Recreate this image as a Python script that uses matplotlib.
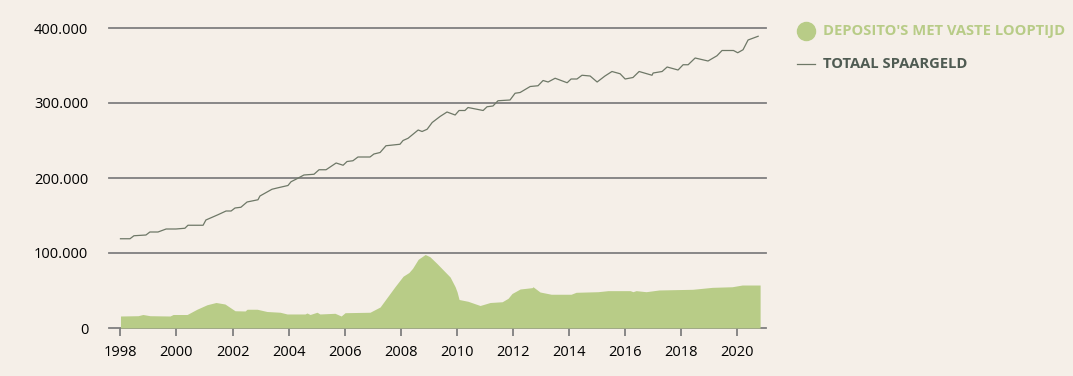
import matplotlib
matplotlib.use("Agg")
import matplotlib.pyplot as plt
from matplotlib.lines import Line2D

# Totaal spaargeld (x 1.000 euro)
tot_year = [1998.0, 1998.34, 1998.48, 1998.91, 1999.05, 1999.34, 1999.63, 1999.98,
            2000.3, 2000.41, 2000.95, 2001.05, 2001.48, 2001.77, 2001.95, 2002.09,
            2002.3, 2002.52, 2002.91, 2002.98, 2003.41, 2003.63, 2003.98, 2004.09,
            2004.3, 2004.55, 2004.91, 2005.09, 2005.34, 2005.7, 2005.95, 2006.09,
            2006.3, 2006.48, 2006.91, 2007.05, 2007.27, 2007.48, 2007.98, 2008.09,
            2008.27, 2008.63, 2008.77, 2008.95, 2009.13, 2009.41, 2009.66, 2009.95,
            2010.09, 2010.3, 2010.41, 2010.95, 2011.09, 2011.3, 2011.48, 2011.91,
            2012.09, 2012.27, 2012.63, 2012.91, 2013.09, 2013.27, 2013.52, 2013.95,
            2014.09, 2014.3, 2014.48, 2014.77, 2015.02, 2015.3, 2015.55, 2015.84,
            2016.02, 2016.3, 2016.52, 2016.98, 2017.02, 2017.34, 2017.52, 2017.91,
            2018.09, 2018.27, 2018.52, 2018.98, 2019.3, 2019.48, 2019.89, 2020.04,
            2020.23, 2020.41, 2020.77]
tot_val = [119, 119, 123, 124, 128, 128, 132, 132,
           133, 137, 137, 144, 151, 156, 156, 160,
           161, 168, 171, 176, 185, 187, 190, 195,
           199, 204, 205, 211, 211, 220, 217, 222,
           223, 228, 228, 232, 234, 243, 245, 250,
           253, 264, 262, 265, 274, 282, 288, 284,
           290, 290, 294, 290, 295, 296, 303, 304,
           313, 314, 322, 323, 330, 328, 333, 327,
           332, 332, 337, 336, 328, 336, 342, 339,
           332, 334, 342, 337, 340, 342, 348, 344,
           351, 351, 360, 356, 363, 370, 370, 367,
           371, 384, 389]

# Deposito's met vaste looptijd (x 1.000 euro)
dep_year = [1998.0, 1998.63, 1998.8, 1999.05, 1999.77, 1999.88, 2000.38, 2000.73,
            2001.09, 2001.41, 2001.73, 2002.09, 2002.45, 2002.52, 2002.88, 2003.23,
            2003.7, 2003.95, 2004.59, 2004.66, 2004.77, 2005.02, 2005.12, 2005.66,
            2005.88, 2006.02, 2006.91, 2007.27, 2007.8, 2008.09, 2008.3, 2008.43,
            2008.63, 2008.88, 2009.05, 2009.3, 2009.77, 2009.95, 2010.02, 2010.09,
            2010.41, 2010.84, 2011.2, 2011.63, 2011.84, 2011.98, 2012.27, 2012.7,
            2012.73, 2012.98, 2013.38, 2014.09, 2014.27, 2015.05, 2015.41, 2016.2,
            2016.3, 2016.41, 2016.77, 2017.23, 2018.43, 2019.13, 2019.84, 2020.2,
            2020.84]
dep_val = [16, 16.4, 18, 16.4, 16, 18, 18, 25,
           31, 34, 32, 23, 22.7, 25, 25, 22,
           21, 18.7, 18.7, 20, 18, 21, 18.7, 19.6,
           16, 20.4, 21, 28, 55, 69, 74, 79.6,
           91.6, 98, 95, 86, 68, 55, 48, 38,
           35.6, 30, 34, 35, 39.6, 46, 52, 53.8,
           55, 48, 45, 45, 47.6, 48.4, 49.8, 49.8,
           48.4, 49.8, 48.4, 50.7, 51.6, 54.2, 55, 57.3,
           57.3]

y_ticks = [0, 100, 200, 300, 400]
y_labels = ["0", "100.000", "200.000", "300.000", "400.000"]
x_ticks = list(range(1998, 2021, 2))

bg = "#f5efe8"
green = "#b8cc87"
line_col = "#6e7867"
grid_col = "#7f7f7f"

plt.rcParams["font.family"] = ["Open Sans", "DejaVu Sans"]

fig = plt.figure(figsize=(10.73, 3.76), dpi=100, facecolor=bg)
ax = fig.add_axes([109 / 1073, 1 - 328 / 376, (766 - 109) / 1073, 300 / 376])
ax.set_facecolor(bg)

for yv in y_ticks:
    ax.axhline(yv, color=grid_col, lw=1.3, zorder=1, clip_on=False)

ax.fill_between(dep_year, 0, dep_val, color=green, lw=0, zorder=2)
ax.plot(tot_year, tot_val, color=line_col, lw=0.9, zorder=3)

ax.set_xlim(1997.59, 2021.05)
ax.set_ylim(0, 400)
ax.set_yticks(y_ticks)
ax.set_yticklabels(y_labels)
ax.set_xticks(x_ticks)
ax.set_xticklabels([str(x) for x in x_ticks])
for s in ax.spines.values():
    s.set_visible(False)
ax.tick_params(axis="y", length=0, pad=15, labelsize=10.5, labelcolor="black")
ax.tick_params(axis="x", length=6, width=1.3, color=grid_col, pad=6,
               labelsize=10.5, labelcolor="black")

# legend
fig.add_artist(Line2D([806 / 1073], [1 - 31 / 376], marker="o", markersize=13,
                      color=green, lw=0, transform=fig.transFigure))
fig.text(823 / 1073, 1 - 31 / 376, "DEPOSITO'S MET VASTE LOOPTIJD", color=green,
         fontsize=10.6, fontweight="bold", va="center", ha="left")
fig.add_artist(Line2D([797 / 1073, 815 / 1073], [1 - 64 / 376, 1 - 64 / 376],
                      color=line_col, lw=0.9, transform=fig.transFigure))
fig.text(823 / 1073, 1 - 64 / 376, "TOTAAL SPAARGELD", color="#4f5b52",
         fontsize=10.6, fontweight="bold", va="center", ha="left")

fig.savefig("out.png", dpi=100, facecolor=bg)
